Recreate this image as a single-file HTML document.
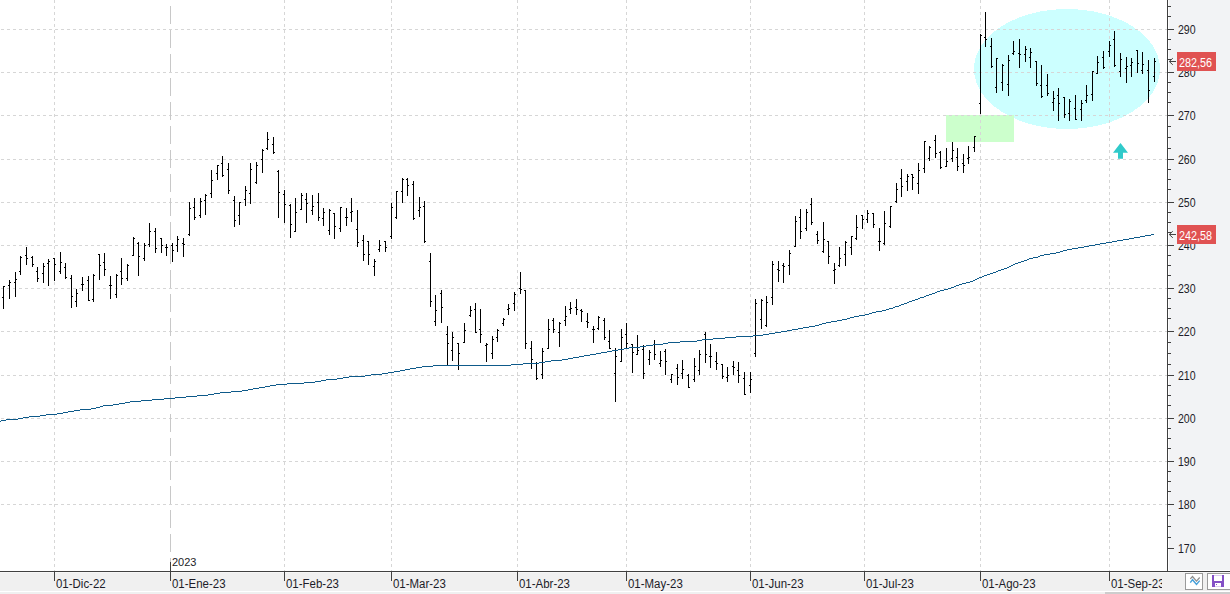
<!DOCTYPE html>
<html><head><meta charset="utf-8"><style>
html,body{margin:0;padding:0;background:#fff;}
#wrap{position:relative;width:1230px;height:594px;overflow:hidden;font-family:"Liberation Sans",sans-serif;}
#wrap>svg{position:absolute;left:0;top:0;}
.yl{position:absolute;left:1178px;font-size:12px;line-height:14px;color:#1c1c28;transform:scaleX(0.88);transform-origin:0 0;}
.xl{position:absolute;top:577px;font-size:12px;line-height:14px;color:#1c1c28;white-space:nowrap;transform:scaleX(0.955);transform-origin:0 0;}
#clipx{position:absolute;left:0;top:0;width:1162px;height:594px;overflow:hidden;}
.yr{position:absolute;left:172px;top:555px;font-size:11px;line-height:14px;color:#1c1c28;}
.pl{position:absolute;left:1177px;width:39px;height:19px;background:#e05252;color:#fff;font-size:12px;line-height:19px;}
.pl span{position:absolute;left:2px;top:2px;transform:scaleX(0.9);transform-origin:0 0;white-space:nowrap;}
.ar{position:absolute;left:1167px;font-size:11px;line-height:14px;color:#555;}
.btn{position:absolute;top:573px;width:17px;height:16px;border:1px solid #9a9a9a;background:#fff;box-sizing:border-box;width:18px;height:17px;overflow:hidden;}
.btn svg{position:absolute;left:-1px;top:-1px;}
</style></head><body><div id="wrap">
<svg width="1230" height="594" viewBox="0 0 1230 594" shape-rendering="crispEdges">
<rect x="0" y="0" width="1230" height="594" fill="#ffffff"/>
<rect x="1169" y="0" width="61" height="570" fill="#f2f3f5"/>
<rect x="0" y="573" width="1230" height="18" fill="#f0f0f0"/>
<rect x="0" y="572" width="1230" height="1" fill="#f7f7f7"/>
<rect x="0" y="592" width="1230" height="2" fill="#f0f0f0"/>
<rect x="1105" y="592" width="125" height="2" fill="#cdcdcd"/>
<defs><clipPath id="cp"><rect x="0" y="0" width="1167" height="571"/></clipPath></defs>
<g clip-path="url(#cp)">
<ellipse cx="1067" cy="69" rx="93" ry="60" fill="#ccffff"/>
<rect x="946" y="115" width="68" height="27" fill="#ccffcc"/>
<line x1="1" y1="29.5" x2="1167" y2="29.5" stroke="#d6d6d6" stroke-width="1" stroke-dasharray="3 3"/>
<line x1="1" y1="72.5" x2="1167" y2="72.5" stroke="#d6d6d6" stroke-width="1" stroke-dasharray="3 3"/>
<line x1="1" y1="115.5" x2="1167" y2="115.5" stroke="#d6d6d6" stroke-width="1" stroke-dasharray="3 3"/>
<line x1="1" y1="159.5" x2="1167" y2="159.5" stroke="#d6d6d6" stroke-width="1" stroke-dasharray="3 3"/>
<line x1="1" y1="202.5" x2="1167" y2="202.5" stroke="#d6d6d6" stroke-width="1" stroke-dasharray="3 3"/>
<line x1="1" y1="245.5" x2="1167" y2="245.5" stroke="#d6d6d6" stroke-width="1" stroke-dasharray="3 3"/>
<line x1="1" y1="288.5" x2="1167" y2="288.5" stroke="#d6d6d6" stroke-width="1" stroke-dasharray="3 3"/>
<line x1="1" y1="331.5" x2="1167" y2="331.5" stroke="#d6d6d6" stroke-width="1" stroke-dasharray="3 3"/>
<line x1="1" y1="375.5" x2="1167" y2="375.5" stroke="#d6d6d6" stroke-width="1" stroke-dasharray="3 3"/>
<line x1="1" y1="418.5" x2="1167" y2="418.5" stroke="#d6d6d6" stroke-width="1" stroke-dasharray="3 3"/>
<line x1="1" y1="461.5" x2="1167" y2="461.5" stroke="#d6d6d6" stroke-width="1" stroke-dasharray="3 3"/>
<line x1="1" y1="504.5" x2="1167" y2="504.5" stroke="#d6d6d6" stroke-width="1" stroke-dasharray="3 3"/>
<line x1="54.5" y1="0" x2="54.5" y2="571" stroke="#d6d6d6" stroke-width="1" stroke-dasharray="3 3"/>
<line x1="170.5" y1="6" x2="170.5" y2="552" stroke="#c8c8c8" stroke-width="1" stroke-dasharray="18 6"/>
<rect x="170" y="558" width="1" height="4" fill="#c8c8c8"/>
<line x1="284.5" y1="0" x2="284.5" y2="571" stroke="#d6d6d6" stroke-width="1" stroke-dasharray="3 3"/>
<line x1="391.5" y1="0" x2="391.5" y2="571" stroke="#d6d6d6" stroke-width="1" stroke-dasharray="3 3"/>
<line x1="517.5" y1="0" x2="517.5" y2="571" stroke="#d6d6d6" stroke-width="1" stroke-dasharray="3 3"/>
<line x1="626.5" y1="0" x2="626.5" y2="571" stroke="#d6d6d6" stroke-width="1" stroke-dasharray="3 3"/>
<line x1="750.5" y1="0" x2="750.5" y2="571" stroke="#d6d6d6" stroke-width="1" stroke-dasharray="3 3"/>
<line x1="864.5" y1="0" x2="864.5" y2="571" stroke="#d6d6d6" stroke-width="1" stroke-dasharray="3 3"/>
<line x1="980.5" y1="0" x2="980.5" y2="571" stroke="#d6d6d6" stroke-width="1" stroke-dasharray="3 3"/>
<line x1="1109.5" y1="0" x2="1109.5" y2="571" stroke="#d6d6d6" stroke-width="1" stroke-dasharray="3 3"/>
<polygon points="1120.5,143 1128,152.7 1123,152.7 1123,158.7 1118,158.7 1118,152.7 1113,152.7" fill="#30caca" shape-rendering="auto"/>
<path d="M3 286h1v23h-1zM2 297h1v1h-1zM4 286h1v1h-1zM9 280h1v19h-1zM8 285h1v1h-1zM10 282h1v1h-1zM15 272h1v25h-1zM14 282h1v1h-1zM16 279h1v1h-1zM20 256h1v19h-1zM19 271h1v1h-1zM21 257h1v1h-1zM26 247h1v18h-1zM25 255h1v1h-1zM27 258h1v1h-1zM32 256h1v11h-1zM31 257h1v1h-1zM33 264h1v1h-1zM37 267h1v15h-1zM36 271h1v1h-1zM38 278h1v1h-1zM43 263h1v20h-1zM42 273h1v1h-1zM44 266h1v1h-1zM48 259h1v27h-1zM47 263h1v1h-1zM49 261h1v1h-1zM54 258h1v23h-1zM53 258h1v1h-1zM55 264h1v1h-1zM60 252h1v22h-1zM59 271h1v1h-1zM61 262h1v1h-1zM65 263h1v16h-1zM64 267h1v1h-1zM66 277h1v1h-1zM71 275h1v33h-1zM70 278h1v1h-1zM72 296h1v1h-1zM76 289h1v18h-1zM75 301h1v1h-1zM77 293h1v1h-1zM82 277h1v14h-1zM81 284h1v1h-1zM83 284h1v1h-1zM88 276h1v25h-1zM87 280h1v1h-1zM89 300h1v1h-1zM93 274h1v28h-1zM92 299h1v1h-1zM94 275h1v1h-1zM99 254h1v26h-1zM98 254h1v1h-1zM100 265h1v1h-1zM104 253h1v23h-1zM103 262h1v1h-1zM105 269h1v1h-1zM110 276h1v23h-1zM109 285h1v1h-1zM111 285h1v1h-1zM116 274h1v24h-1zM115 294h1v1h-1zM117 275h1v1h-1zM121 258h1v27h-1zM120 271h1v1h-1zM122 278h1v1h-1zM127 264h1v17h-1zM126 278h1v1h-1zM128 265h1v1h-1zM133 237h1v19h-1zM132 255h1v1h-1zM134 238h1v1h-1zM138 242h1v34h-1zM137 243h1v1h-1zM139 256h1v1h-1zM144 243h1v18h-1zM143 258h1v1h-1zM145 245h1v1h-1zM149 223h1v24h-1zM148 244h1v1h-1zM150 231h1v1h-1zM155 228h1v25h-1zM154 231h1v1h-1zM156 248h1v1h-1zM161 238h1v15h-1zM160 238h1v1h-1zM162 245h1v1h-1zM166 244h1v12h-1zM165 247h1v1h-1zM167 247h1v1h-1zM172 243h1v19h-1zM171 245h1v1h-1zM173 250h1v1h-1zM177 236h1v16h-1zM176 245h1v1h-1zM178 239h1v1h-1zM183 238h1v19h-1zM182 243h1v1h-1zM184 244h1v1h-1zM189 202h1v34h-1zM188 234h1v1h-1zM190 208h1v1h-1zM194 198h1v22h-1zM193 207h1v1h-1zM195 217h1v1h-1zM200 198h1v20h-1zM199 215h1v1h-1zM201 201h1v1h-1zM205 194h1v21h-1zM204 200h1v1h-1zM206 195h1v1h-1zM211 170h1v28h-1zM210 193h1v1h-1zM212 180h1v1h-1zM217 165h1v15h-1zM216 173h1v1h-1zM218 165h1v1h-1zM222 156h1v21h-1zM221 163h1v1h-1zM223 175h1v1h-1zM228 163h1v31h-1zM227 169h1v1h-1zM229 190h1v1h-1zM234 196h1v31h-1zM233 200h1v1h-1zM235 220h1v1h-1zM239 202h1v23h-1zM238 215h1v1h-1zM240 202h1v1h-1zM245 186h1v20h-1zM244 199h1v1h-1zM246 190h1v1h-1zM250 163h1v41h-1zM249 193h1v1h-1zM251 169h1v1h-1zM256 162h1v22h-1zM255 182h1v1h-1zM257 165h1v1h-1zM262 149h1v24h-1zM261 159h1v1h-1zM263 150h1v1h-1zM267 132h1v18h-1zM266 148h1v1h-1zM268 139h1v1h-1zM273 137h1v17h-1zM272 144h1v1h-1zM274 152h1v1h-1zM278 170h1v48h-1zM277 171h1v1h-1zM279 192h1v1h-1zM284 190h1v33h-1zM283 194h1v1h-1zM285 204h1v1h-1zM290 204h1v34h-1zM289 205h1v1h-1zM291 224h1v1h-1zM295 198h1v34h-1zM294 231h1v1h-1zM296 212h1v1h-1zM301 193h1v17h-1zM300 209h1v1h-1zM302 195h1v1h-1zM306 193h1v30h-1zM305 199h1v1h-1zM307 203h1v1h-1zM312 195h1v20h-1zM311 210h1v1h-1zM313 206h1v1h-1zM318 193h1v28h-1zM317 202h1v1h-1zM319 217h1v1h-1zM323 208h1v18h-1zM322 218h1v1h-1zM324 212h1v1h-1zM329 209h1v26h-1zM328 230h1v1h-1zM330 210h1v1h-1zM334 213h1v26h-1zM333 213h1v1h-1zM335 226h1v1h-1zM340 207h1v25h-1zM339 228h1v1h-1zM341 207h1v1h-1zM346 208h1v18h-1zM345 217h1v1h-1zM347 217h1v1h-1zM351 198h1v24h-1zM350 212h1v1h-1zM352 211h1v1h-1zM357 210h1v37h-1zM356 229h1v1h-1zM358 242h1v1h-1zM363 235h1v26h-1zM362 240h1v1h-1zM364 254h1v1h-1zM368 241h1v24h-1zM367 241h1v1h-1zM369 254h1v1h-1zM374 259h1v17h-1zM373 266h1v1h-1zM375 261h1v1h-1zM379 240h1v12h-1zM378 249h1v1h-1zM380 245h1v1h-1zM385 241h1v11h-1zM384 241h1v1h-1zM386 247h1v1h-1zM391 203h1v36h-1zM390 236h1v1h-1zM392 207h1v1h-1zM396 191h1v28h-1zM395 217h1v1h-1zM397 191h1v1h-1zM402 178h1v25h-1zM401 191h1v1h-1zM403 179h1v1h-1zM407 178h1v18h-1zM406 179h1v1h-1zM408 185h1v1h-1zM413 181h1v39h-1zM412 184h1v1h-1zM414 218h1v1h-1zM419 197h1v20h-1zM418 210h1v1h-1zM420 207h1v1h-1zM424 201h1v42h-1zM423 206h1v1h-1zM425 241h1v1h-1zM430 253h1v54h-1zM429 261h1v1h-1zM431 301h1v1h-1zM435 295h1v31h-1zM434 321h1v1h-1zM436 310h1v1h-1zM441 290h1v33h-1zM440 293h1v1h-1zM442 307h1v1h-1zM447 326h1v39h-1zM446 334h1v1h-1zM448 343h1v1h-1zM452 332h1v29h-1zM451 350h1v1h-1zM453 337h1v1h-1zM458 343h1v27h-1zM457 343h1v1h-1zM459 353h1v1h-1zM464 323h1v20h-1zM463 342h1v1h-1zM465 330h1v1h-1zM470 306h1v11h-1zM469 315h1v1h-1zM471 310h1v1h-1zM475 303h1v30h-1zM474 309h1v1h-1zM476 332h1v1h-1zM480 309h1v34h-1zM479 329h1v1h-1zM481 334h1v1h-1zM486 343h1v19h-1zM485 345h1v1h-1zM487 344h1v1h-1zM492 336h1v23h-1zM491 353h1v1h-1zM493 339h1v1h-1zM497 329h1v13h-1zM496 337h1v1h-1zM498 330h1v1h-1zM503 318h1v8h-1zM502 323h1v1h-1zM504 319h1v1h-1zM508 304h1v11h-1zM507 309h1v1h-1zM509 308h1v1h-1zM514 292h1v19h-1zM513 303h1v1h-1zM515 294h1v1h-1zM520 272h1v22h-1zM519 288h1v1h-1zM521 289h1v1h-1zM525 290h1v59h-1zM524 290h1v1h-1zM526 343h1v1h-1zM531 341h1v28h-1zM530 348h1v1h-1zM532 359h1v1h-1zM536 362h1v18h-1zM535 363h1v1h-1zM537 378h1v1h-1zM542 348h1v31h-1zM541 374h1v1h-1zM543 351h1v1h-1zM548 319h1v30h-1zM547 348h1v1h-1zM549 329h1v1h-1zM553 318h1v15h-1zM552 320h1v1h-1zM554 329h1v1h-1zM559 322h1v25h-1zM558 332h1v1h-1zM560 323h1v1h-1zM565 306h1v20h-1zM564 320h1v1h-1zM566 316h1v1h-1zM570 302h1v12h-1zM569 309h1v1h-1zM571 308h1v1h-1zM576 299h1v16h-1zM575 307h1v1h-1zM577 309h1v1h-1zM581 309h1v13h-1zM580 310h1v1h-1zM582 311h1v1h-1zM587 313h1v15h-1zM586 321h1v1h-1zM588 322h1v1h-1zM593 326h1v17h-1zM592 329h1v1h-1zM594 329h1v1h-1zM598 316h1v14h-1zM597 328h1v1h-1zM599 317h1v1h-1zM604 318h1v22h-1zM603 320h1v1h-1zM605 337h1v1h-1zM609 330h1v19h-1zM608 341h1v1h-1zM610 348h1v1h-1zM615 348h1v54h-1zM614 373h1v1h-1zM616 356h1v1h-1zM621 329h1v33h-1zM620 361h1v1h-1zM622 337h1v1h-1zM626 323h1v25h-1zM625 334h1v1h-1zM627 343h1v1h-1zM632 344h1v29h-1zM631 344h1v1h-1zM633 352h1v1h-1zM637 335h1v20h-1zM636 354h1v1h-1zM638 350h1v1h-1zM643 345h1v34h-1zM642 349h1v1h-1zM644 373h1v1h-1zM649 350h1v15h-1zM648 359h1v1h-1zM650 352h1v1h-1zM654 340h1v20h-1zM653 344h1v1h-1zM655 354h1v1h-1zM660 351h1v16h-1zM659 363h1v1h-1zM661 360h1v1h-1zM665 349h1v26h-1zM664 351h1v1h-1zM666 361h1v1h-1zM671 374h1v9h-1zM670 379h1v1h-1zM672 374h1v1h-1zM677 364h1v21h-1zM676 368h1v1h-1zM678 377h1v1h-1zM682 360h1v19h-1zM681 373h1v1h-1zM683 369h1v1h-1zM688 374h1v14h-1zM687 375h1v1h-1zM689 387h1v1h-1zM694 358h1v24h-1zM693 379h1v1h-1zM695 366h1v1h-1zM699 350h1v25h-1zM698 370h1v1h-1zM700 354h1v1h-1zM705 332h1v31h-1zM704 334h1v1h-1zM706 354h1v1h-1zM710 344h1v24h-1zM709 356h1v1h-1zM711 356h1v1h-1zM716 352h1v18h-1zM715 361h1v1h-1zM717 363h1v1h-1zM722 364h1v15h-1zM721 364h1v1h-1zM723 376h1v1h-1zM727 367h1v15h-1zM726 377h1v1h-1zM728 375h1v1h-1zM733 361h1v14h-1zM732 366h1v1h-1zM734 367h1v1h-1zM738 362h1v21h-1zM737 370h1v1h-1zM739 375h1v1h-1zM744 372h1v23h-1zM743 378h1v1h-1zM745 394h1v1h-1zM750 372h1v21h-1zM749 385h1v1h-1zM751 379h1v1h-1zM755 299h1v58h-1zM754 353h1v1h-1zM756 303h1v1h-1zM761 299h1v30h-1zM760 319h1v1h-1zM762 300h1v1h-1zM766 296h1v31h-1zM765 325h1v1h-1zM767 302h1v1h-1zM772 261h1v44h-1zM771 297h1v1h-1zM773 264h1v1h-1zM778 261h1v21h-1zM777 269h1v1h-1zM779 270h1v1h-1zM783 263h1v20h-1zM782 265h1v1h-1zM784 266h1v1h-1zM789 250h1v25h-1zM788 265h1v1h-1zM790 253h1v1h-1zM795 216h1v31h-1zM794 246h1v1h-1zM796 221h1v1h-1zM800 209h1v30h-1zM799 217h1v1h-1zM801 231h1v1h-1zM806 209h1v22h-1zM805 228h1v1h-1zM807 212h1v1h-1zM811 198h1v27h-1zM810 204h1v1h-1zM812 222h1v1h-1zM817 231h1v13h-1zM816 234h1v1h-1zM818 240h1v1h-1zM823 222h1v31h-1zM822 251h1v1h-1zM824 239h1v1h-1zM828 241h1v23h-1zM827 241h1v1h-1zM829 256h1v1h-1zM834 263h1v21h-1zM833 270h1v1h-1zM835 269h1v1h-1zM839 247h1v20h-1zM838 265h1v1h-1zM840 258h1v1h-1zM845 241h1v25h-1zM844 254h1v1h-1zM846 242h1v1h-1zM851 236h1v19h-1zM850 247h1v1h-1zM852 236h1v1h-1zM856 215h1v25h-1zM855 238h1v1h-1zM857 227h1v1h-1zM862 215h1v14h-1zM861 215h1v1h-1zM863 219h1v1h-1zM867 210h1v13h-1zM866 219h1v1h-1zM868 213h1v1h-1zM873 213h1v15h-1zM872 213h1v1h-1zM874 224h1v1h-1zM879 228h1v23h-1zM878 241h1v1h-1zM880 241h1v1h-1zM884 211h1v34h-1zM883 243h1v1h-1zM885 223h1v1h-1zM890 206h1v22h-1zM889 226h1v1h-1zM891 206h1v1h-1zM896 183h1v20h-1zM895 201h1v1h-1zM897 189h1v1h-1zM901 169h1v28h-1zM900 178h1v1h-1zM902 186h1v1h-1zM907 174h1v17h-1zM906 181h1v1h-1zM908 176h1v1h-1zM912 174h1v16h-1zM911 174h1v1h-1zM913 177h1v1h-1zM918 163h1v31h-1zM917 183h1v1h-1zM919 170h1v1h-1zM924 141h1v32h-1zM923 168h1v1h-1zM925 141h1v1h-1zM929 146h1v15h-1zM928 158h1v1h-1zM930 147h1v1h-1zM935 135h1v23h-1zM934 140h1v1h-1zM936 153h1v1h-1zM940 151h1v18h-1zM939 152h1v1h-1zM941 167h1v1h-1zM946 148h1v19h-1zM945 166h1v1h-1zM947 161h1v1h-1zM952 142h1v20h-1zM951 158h1v1h-1zM953 150h1v1h-1zM957 148h1v23h-1zM956 157h1v1h-1zM958 166h1v1h-1zM963 154h1v19h-1zM962 163h1v1h-1zM964 165h1v1h-1zM968 146h1v18h-1zM967 158h1v1h-1zM969 157h1v1h-1zM974 136h1v16h-1zM973 147h1v1h-1zM975 136h1v1h-1zM980 34h1v80h-1zM979 103h1v1h-1zM981 35h1v1h-1zM985 12h1v35h-1zM984 37h1v1h-1zM986 39h1v1h-1zM991 38h1v30h-1zM990 46h1v1h-1zM992 66h1v1h-1zM996 58h1v35h-1zM995 87h1v1h-1zM997 58h1v1h-1zM1002 64h1v27h-1zM1001 82h1v1h-1zM1003 65h1v1h-1zM1008 55h1v41h-1zM1007 84h1v1h-1zM1009 60h1v1h-1zM1013 41h1v14h-1zM1012 53h1v1h-1zM1014 51h1v1h-1zM1019 39h1v29h-1zM1018 53h1v1h-1zM1020 54h1v1h-1zM1025 46h1v16h-1zM1024 54h1v1h-1zM1026 49h1v1h-1zM1030 48h1v20h-1zM1029 57h1v1h-1zM1031 52h1v1h-1zM1036 61h1v25h-1zM1035 61h1v1h-1zM1037 83h1v1h-1zM1041 65h1v33h-1zM1040 85h1v1h-1zM1042 96h1v1h-1zM1047 74h1v22h-1zM1046 85h1v1h-1zM1048 93h1v1h-1zM1053 91h1v20h-1zM1052 102h1v1h-1zM1054 98h1v1h-1zM1058 88h1v33h-1zM1057 95h1v1h-1zM1059 103h1v1h-1zM1064 97h1v21h-1zM1063 97h1v1h-1zM1065 114h1v1h-1zM1069 99h1v22h-1zM1068 113h1v1h-1zM1070 101h1v1h-1zM1075 95h1v25h-1zM1074 108h1v1h-1zM1076 119h1v1h-1zM1081 100h1v21h-1zM1080 109h1v1h-1zM1082 103h1v1h-1zM1086 85h1v18h-1zM1085 100h1v1h-1zM1087 95h1v1h-1zM1092 71h1v30h-1zM1091 94h1v1h-1zM1093 71h1v1h-1zM1097 56h1v18h-1zM1096 73h1v1h-1zM1098 62h1v1h-1zM1103 51h1v18h-1zM1102 57h1v1h-1zM1104 67h1v1h-1zM1109 41h1v16h-1zM1108 51h1v1h-1zM1110 45h1v1h-1zM1114 31h1v36h-1zM1113 39h1v1h-1zM1115 65h1v1h-1zM1120 53h1v24h-1zM1119 71h1v1h-1zM1121 59h1v1h-1zM1126 57h1v26h-1zM1125 68h1v1h-1zM1127 66h1v1h-1zM1131 58h1v19h-1zM1130 65h1v1h-1zM1132 62h1v1h-1zM1137 50h1v23h-1zM1136 50h1v1h-1zM1138 63h1v1h-1zM1142 52h1v22h-1zM1141 70h1v1h-1zM1143 64h1v1h-1zM1148 60h1v43h-1zM1147 70h1v1h-1zM1149 90h1v1h-1zM1154 58h1v24h-1zM1153 76h1v1h-1zM1155 61h1v1h-1z" fill="#000000"/>
<path d="M0 421h1v1h-1zM1 420h5v1h-5zM6 419h12v1h-12zM18 418h5v1h-5zM23 417h6v1h-6zM29 416h11v1h-11zM40 415h6v1h-6zM46 414h11v1h-11zM57 413h6v1h-6zM63 412h5v1h-5zM68 411h6v1h-6zM74 410h6v1h-6zM80 409h11v1h-11zM91 408h5v1h-5zM96 407h4v1h-4zM100 406h3v1h-3zM103 405h10v1h-10zM113 404h6v1h-6zM119 403h6v1h-6zM125 402h5v1h-5zM130 401h11v1h-11zM141 400h11v1h-11zM152 399h12v1h-12zM164 398h11v1h-11zM175 397h11v1h-11zM186 396h11v1h-11zM197 395h11v1h-11zM208 394h6v1h-6zM214 393h6v1h-6zM220 392h11v1h-11zM231 391h11v1h-11zM242 390h6v1h-6zM248 389h5v1h-5zM253 388h6v1h-6zM259 387h6v1h-6zM265 386h5v1h-5zM270 385h6v1h-6zM276 384h11v1h-11zM287 383h17v1h-17zM304 382h11v1h-11zM315 381h6v1h-6zM321 380h5v1h-5zM326 379h11v1h-11zM337 378h6v1h-6zM343 377h6v1h-6zM349 376h16v1h-16zM365 375h6v1h-6zM371 374h11v1h-11zM382 373h6v1h-6zM388 372h6v1h-6zM394 371h6v1h-6zM400 370h5v1h-5zM405 369h5v1h-5zM410 368h6v1h-6zM416 367h6v1h-6zM422 366h11v1h-11zM433 365h78v1h-78zM511 364h12v1h-12zM523 363h16v1h-16zM539 362h6v1h-6zM545 361h6v1h-6zM551 360h11v1h-11zM562 359h6v1h-6zM568 358h5v1h-5zM573 357h6v1h-6zM579 356h5v1h-5zM584 355h6v1h-6zM590 354h6v1h-6zM596 353h5v1h-5zM601 352h6v1h-6zM607 351h5v1h-5zM612 350h6v1h-6zM618 349h6v1h-6zM624 348h5v1h-5zM629 347h11v1h-11zM640 346h6v1h-6zM646 345h7v1h-7zM653 344h10v1h-10zM663 343h5v1h-5zM668 342h12v1h-12zM680 341h17v1h-17zM697 340h5v1h-5zM702 339h11v1h-11zM713 338h12v1h-12zM725 337h11v1h-11zM736 336h17v1h-17zM753 335h10v1h-10zM763 334h6v1h-6zM769 333h6v1h-6zM775 332h6v1h-6zM781 331h6v1h-6zM787 330h5v1h-5zM792 329h6v1h-6zM798 328h5v1h-5zM803 327h6v1h-6zM809 326h6v1h-6zM815 325h4v1h-4zM819 324h3v1h-3zM822 323h4v1h-4zM826 322h5v1h-5zM831 321h6v1h-6zM837 320h5v1h-5zM842 319h5v1h-5zM847 318h3v1h-3zM850 317h4v1h-4zM854 316h5v1h-5zM859 315h6v1h-6zM865 314h4v1h-4zM869 313h3v1h-3zM872 312h4v1h-4zM876 311h6v1h-6zM882 310h4v1h-4zM886 309h3v1h-3zM889 308h4v1h-4zM893 307h2v1h-2zM895 306h4v1h-4zM899 305h2v1h-2zM901 304h3v1h-3zM904 303h3v1h-3zM907 302h2v1h-2zM909 301h3v1h-3zM912 300h3v1h-3zM915 299h3v1h-3zM918 298h2v1h-2zM920 297h4v1h-4zM924 296h2v1h-2zM926 295h3v1h-3zM929 294h3v1h-3zM932 293h3v1h-3zM935 292h2v1h-2zM937 291h3v1h-3zM940 290h4v1h-4zM944 289h4v1h-4zM948 288h3v1h-3zM951 287h3v1h-3zM954 286h2v1h-2zM956 285h3v1h-3zM959 284h3v1h-3zM962 283h4v1h-4zM966 282h4v1h-4zM970 281h3v1h-3zM973 280h2v1h-2zM975 279h2v1h-2zM977 278h2v1h-2zM979 277h3v1h-3zM982 276h2v1h-2zM984 275h3v1h-3zM987 274h3v1h-3zM990 273h3v1h-3zM993 272h3v1h-3zM996 271h2v1h-2zM998 270h3v1h-3zM1001 269h3v1h-3zM1004 268h3v1h-3zM1007 267h2v1h-2zM1009 266h2v1h-2zM1011 265h2v1h-2zM1013 264h2v1h-2zM1015 263h3v1h-3zM1018 262h3v1h-3zM1021 261h3v1h-3zM1024 260h3v1h-3zM1027 259h2v1h-2zM1029 258h4v1h-4zM1033 257h5v1h-5zM1038 256h2v1h-2zM1040 255h4v1h-4zM1044 254h6v1h-6zM1050 253h6v1h-6zM1056 252h4v1h-4zM1060 251h3v1h-3zM1063 250h4v1h-4zM1067 249h5v1h-5zM1072 248h6v1h-6zM1078 247h6v1h-6zM1084 246h5v1h-5zM1089 245h6v1h-6zM1095 244h5v1h-5zM1100 243h6v1h-6zM1106 242h6v1h-6zM1112 241h5v1h-5zM1117 240h6v1h-6zM1123 239h6v1h-6zM1129 238h5v1h-5zM1134 237h6v1h-6zM1140 236h5v1h-5zM1145 235h6v1h-6zM1151 234h3v1h-3z" fill="#0e5a8a"/>
</g>
<rect x="1167" y="0" width="1" height="572" fill="#404040"/>
<rect x="0" y="571" width="1230" height="1" fill="#404040"/>
<rect x="1167" y="29" width="7" height="1" fill="#404040"/>
<rect x="1167" y="72" width="7" height="1" fill="#404040"/>
<rect x="1167" y="115" width="7" height="1" fill="#404040"/>
<rect x="1167" y="159" width="7" height="1" fill="#404040"/>
<rect x="1167" y="202" width="7" height="1" fill="#404040"/>
<rect x="1167" y="245" width="7" height="1" fill="#404040"/>
<rect x="1167" y="288" width="7" height="1" fill="#404040"/>
<rect x="1167" y="331" width="7" height="1" fill="#404040"/>
<rect x="1167" y="375" width="7" height="1" fill="#404040"/>
<rect x="1167" y="418" width="7" height="1" fill="#404040"/>
<rect x="1167" y="461" width="7" height="1" fill="#404040"/>
<rect x="1167" y="504" width="7" height="1" fill="#404040"/>
<rect x="1167" y="548" width="7" height="1" fill="#404040"/>
<rect x="1167" y="6" width="4" height="1" fill="#404040"/>
<rect x="1167" y="16" width="4" height="1" fill="#404040"/>
<rect x="1167" y="39" width="4" height="1" fill="#404040"/>
<rect x="1167" y="49" width="4" height="1" fill="#404040"/>
<rect x="1167" y="59" width="4" height="1" fill="#404040"/>
<rect x="1167" y="82" width="4" height="1" fill="#404040"/>
<rect x="1167" y="92" width="4" height="1" fill="#404040"/>
<rect x="1167" y="102" width="4" height="1" fill="#404040"/>
<rect x="1167" y="126" width="4" height="1" fill="#404040"/>
<rect x="1167" y="137" width="4" height="1" fill="#404040"/>
<rect x="1167" y="148" width="4" height="1" fill="#404040"/>
<rect x="1167" y="169" width="4" height="1" fill="#404040"/>
<rect x="1167" y="179" width="4" height="1" fill="#404040"/>
<rect x="1167" y="189" width="4" height="1" fill="#404040"/>
<rect x="1167" y="212" width="4" height="1" fill="#404040"/>
<rect x="1167" y="222" width="4" height="1" fill="#404040"/>
<rect x="1167" y="232" width="4" height="1" fill="#404040"/>
<rect x="1167" y="255" width="4" height="1" fill="#404040"/>
<rect x="1167" y="265" width="4" height="1" fill="#404040"/>
<rect x="1167" y="275" width="4" height="1" fill="#404040"/>
<rect x="1167" y="298" width="4" height="1" fill="#404040"/>
<rect x="1167" y="308" width="4" height="1" fill="#404040"/>
<rect x="1167" y="318" width="4" height="1" fill="#404040"/>
<rect x="1167" y="342" width="4" height="1" fill="#404040"/>
<rect x="1167" y="353" width="4" height="1" fill="#404040"/>
<rect x="1167" y="364" width="4" height="1" fill="#404040"/>
<rect x="1167" y="385" width="4" height="1" fill="#404040"/>
<rect x="1167" y="395" width="4" height="1" fill="#404040"/>
<rect x="1167" y="405" width="4" height="1" fill="#404040"/>
<rect x="1167" y="428" width="4" height="1" fill="#404040"/>
<rect x="1167" y="438" width="4" height="1" fill="#404040"/>
<rect x="1167" y="448" width="4" height="1" fill="#404040"/>
<rect x="1167" y="471" width="4" height="1" fill="#404040"/>
<rect x="1167" y="481" width="4" height="1" fill="#404040"/>
<rect x="1167" y="491" width="4" height="1" fill="#404040"/>
<rect x="1167" y="515" width="4" height="1" fill="#404040"/>
<rect x="1167" y="526" width="4" height="1" fill="#404040"/>
<rect x="1167" y="537" width="4" height="1" fill="#404040"/>
<rect x="54" y="572" width="1" height="9" fill="#404040"/>
<rect x="170" y="572" width="1" height="9" fill="#404040"/>
<rect x="284" y="572" width="1" height="9" fill="#404040"/>
<rect x="391" y="572" width="1" height="9" fill="#404040"/>
<rect x="517" y="572" width="1" height="9" fill="#404040"/>
<rect x="626" y="572" width="1" height="9" fill="#404040"/>
<rect x="750" y="572" width="1" height="9" fill="#404040"/>
<rect x="864" y="572" width="1" height="9" fill="#404040"/>
<rect x="980" y="572" width="1" height="9" fill="#404040"/>
<rect x="1109" y="572" width="1" height="9" fill="#404040"/>
<rect x="170" y="562" width="1" height="9" fill="#404040"/>
<path d="M1169.3 61.5H1176M1169.3 61.5L1172.8 58.2M1169.3 61.5L1172.8 64.8" stroke="#444" stroke-width="1" fill="none" shape-rendering="auto"/>
<path d="M1169.3 234.5H1176M1169.3 234.5L1172.8 231.2M1169.3 234.5L1172.8 237.8" stroke="#444" stroke-width="1" fill="none" shape-rendering="auto"/>
</svg>
<div id="clipx">
<div class="xl" style="left:56px">01-Dic-22</div><div class="xl" style="left:172px">01-Ene-23</div><div class="xl" style="left:286px">01-Feb-23</div><div class="xl" style="left:393px">01-Mar-23</div><div class="xl" style="left:519px">01-Abr-23</div><div class="xl" style="left:628px">01-May-23</div><div class="xl" style="left:752px">01-Jun-23</div><div class="xl" style="left:866px">01-Jul-23</div><div class="xl" style="left:982px">01-Ago-23</div><div class="xl" style="left:1111px">01-Sep-23</div><div class="yr">2023</div>
</div>
<div class="yl" style="top:23px">290</div><div class="yl" style="top:66px">280</div><div class="yl" style="top:109px">270</div><div class="yl" style="top:153px">260</div><div class="yl" style="top:196px">250</div><div class="yl" style="top:239px">240</div><div class="yl" style="top:282px">230</div><div class="yl" style="top:325px">220</div><div class="yl" style="top:369px">210</div><div class="yl" style="top:412px">200</div><div class="yl" style="top:455px">190</div><div class="yl" style="top:498px">180</div><div class="yl" style="top:542px">170</div><div class="pl" style="top:52px"><span>282,56</span></div><div class="pl" style="top:225px"><span>242,58</span></div><div class="btn" style="left:1185px"><svg width="18" height="17" viewBox="0 0 18 17"><polyline points="5.3,5.9 7.5,3.5 11.5,8.1 14.7,4.5" fill="none" stroke="#8c8c8c" stroke-width="1.2"/><polyline points="5.3,9.6 7.5,6.7 11.5,11.5 14.7,7.6" fill="none" stroke="#45a0da" stroke-width="1.4"/></svg></div><div class="btn" style="left:1207px;width:30px"><svg width="30" height="17" viewBox="0 0 30 17" shape-rendering="crispEdges"><rect x="5" y="2" width="12" height="12" fill="#8450c6"/><rect x="7" y="2" width="8" height="6" fill="#ffffff"/><rect x="7" y="2" width="8" height="1" fill="#dccbf3"/><rect x="8" y="10" width="6" height="4" fill="#ffffff"/><rect x="8" y="13" width="6" height="1" fill="#dccbf3"/><rect x="9" y="11" width="1" height="1" fill="#8450c6"/></svg></div>
</div></body></html>
